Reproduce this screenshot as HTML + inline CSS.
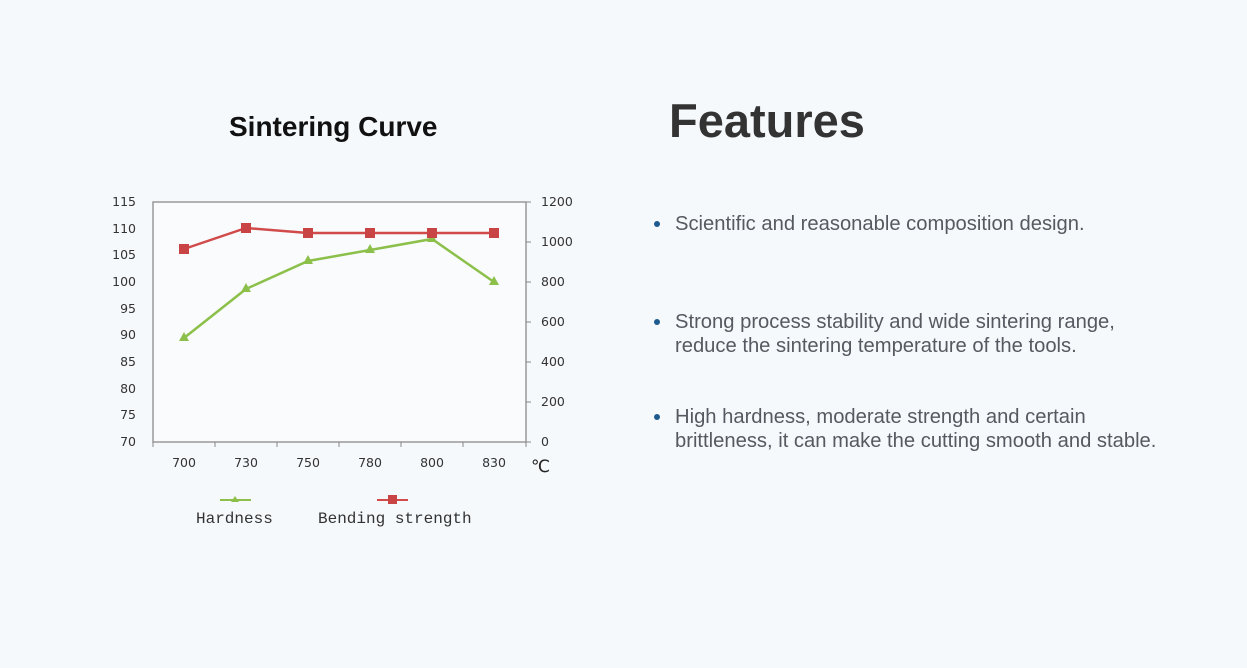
<!DOCTYPE html>
<html><head><meta charset="utf-8"><style>
body{margin:0;width:1247px;height:668px;background:#f6f9fc;font-family:"Liberation Sans",sans-serif;position:relative;overflow:hidden}
.t{position:absolute;font-family:"Liberation Sans",sans-serif}
li{position:absolute;left:675px;list-style:none;font-size:20.2px;color:#555a60;line-height:24px;white-space:nowrap}
li:before{content:"";position:absolute;left:-21px;top:9px;width:6px;height:6px;border-radius:50%;background:#1d5a8e}
</style></head><body>
<div class="t" style="left:229px;top:111px;font-size:28px;font-weight:bold;color:#111">Sintering Curve</div>
<div class="t" style="left:669px;top:93px;font-size:47px;font-weight:bold;color:#333">Features</div>
<ul style="margin:0;padding:0">
<li style="top:212px">Scientific and reasonable composition design.</li>
<li style="top:310px">Strong process stability and wide sintering range,<br>reduce the sintering temperature of the tools.</li>
<li style="top:405px">High hardness, moderate strength and certain<br>brittleness, it can make the cutting smooth and stable.</li>
</ul>
<svg width="1247" height="668" style="position:absolute;left:0;top:0" font-family="DejaVu Sans, sans-serif" font-size="12.5" fill="#333">
<rect x="153" y="202" width="373" height="240" fill="#f9fbfd" stroke="#999" stroke-width="1.5"/>
<g stroke="#888" stroke-width="1">
<line x1="153" y1="442" x2="153" y2="447"/><line x1="215" y1="442" x2="215" y2="447"/><line x1="277" y1="442" x2="277" y2="447"/><line x1="339" y1="442" x2="339" y2="447"/><line x1="401" y1="442" x2="401" y2="447"/><line x1="463" y1="442" x2="463" y2="447"/><line x1="526" y1="442" x2="526" y2="447"/>
<line x1="526" y1="202" x2="531" y2="202"/><line x1="526" y1="242" x2="531" y2="242"/><line x1="526" y1="282" x2="531" y2="282"/><line x1="526" y1="322" x2="531" y2="322"/><line x1="526" y1="362" x2="531" y2="362"/><line x1="526" y1="402" x2="531" y2="402"/><line x1="526" y1="442" x2="531" y2="442"/>
</g>
<g text-anchor="end">
<text x="136" y="206">115</text><text x="136" y="233">110</text><text x="136" y="259">105</text><text x="136" y="286">100</text><text x="136" y="313">95</text><text x="136" y="339">90</text><text x="136" y="366">85</text><text x="136" y="393">80</text><text x="136" y="419">75</text><text x="136" y="446">70</text>
</g>
<g>
<text x="541" y="206">1200</text><text x="541" y="246">1000</text><text x="541" y="286">800</text><text x="541" y="326">600</text><text x="541" y="366">400</text><text x="541" y="406">200</text><text x="541" y="446">0</text>
</g>
<g text-anchor="middle">
<text x="184" y="467">700</text><text x="246" y="467">730</text><text x="308" y="467">750</text><text x="370" y="467">780</text><text x="432" y="467">800</text><text x="494" y="467">830</text>
</g>
<text x="531" y="472" font-size="17" fill="#222">℃</text>
<polyline points="184,338 246,289 308,261 370,250 432,239 494,282" fill="none" stroke="#8cc04a" stroke-width="2.5"/>
<g fill="#8cc04a">
<polygon points="184,332 189,341 179,341"/><polygon points="246,283 251,292 241,292"/><polygon points="308,255 313,264 303,264"/><polygon points="370,244 375,253 365,253"/><polygon points="432,233 437,242 427,242"/><polygon points="494,276 499,285 489,285"/>
</g>
<polyline points="184,249 246,228 308,233 370,233 432,233 494,233" fill="none" stroke="#d14b4b" stroke-width="2.5"/>
<g fill="#c94444">
<rect x="179" y="244" width="10" height="10"/><rect x="241" y="223" width="10" height="10"/><rect x="303" y="228" width="10" height="10"/><rect x="365" y="228" width="10" height="10"/><rect x="427" y="228" width="10" height="10"/><rect x="489" y="228" width="10" height="10"/>
</g>
<line x1="220" y1="500" x2="251" y2="500" stroke="#8cc04a" stroke-width="2"/>
<polygon points="235,496 239,502 231,502" fill="#8cc04a"/>
<line x1="377" y1="500" x2="408" y2="500" stroke="#d14b4b" stroke-width="2"/>
<rect x="388" y="495" width="9" height="9" fill="#c94444"/>
<g font-family="Liberation Mono, monospace" font-size="16" fill="#333" style="white-space:pre">
<text x="196" y="523">Hardness</text><text x="318" y="523">Bending  strength</text>
</g>
</svg>
</body></html>
